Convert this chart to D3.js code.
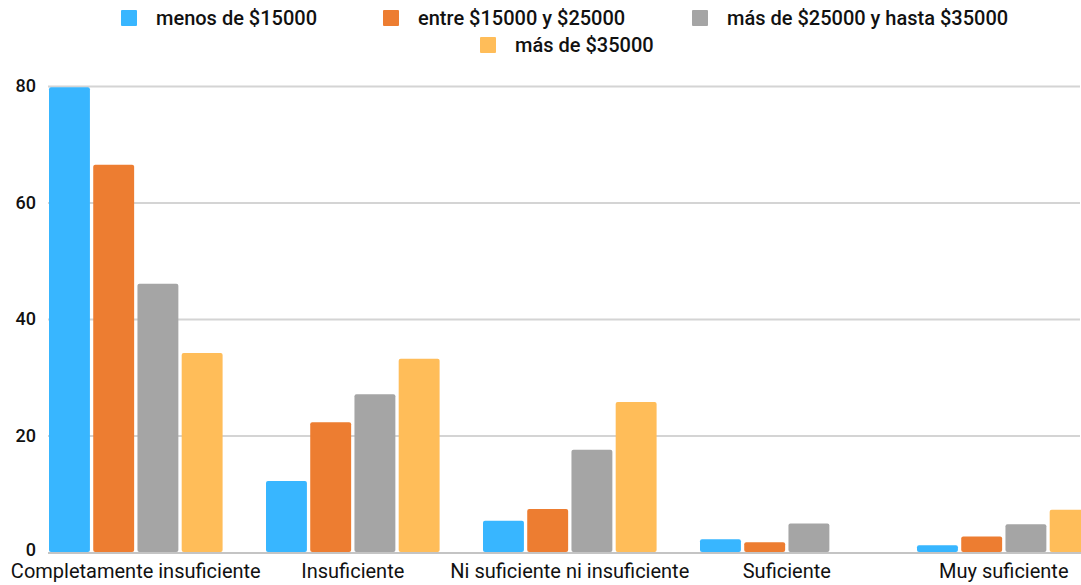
<!DOCTYPE html>
<meta charset="utf-8">
<style>
body { margin: 0; background: #fff; }
svg { display: block; font-family: Roboto, sans-serif; }
.grid line { stroke: #d4d4d4; stroke-width: 2; }
.grid .domain { display: none; }
.y-axis text { font-size: 18px; font-weight: 500; fill: #111; }
.x-label { font-size: 20px; font-weight: 400; fill: #111; }
.legend text { font-size: 20px; font-weight: 500; fill: #111; }
</style>
<svg width="1081" height="585"></svg>
<script src="https://d3js.org/d3.v7.min.js"></script>
<script>

var categories = ["Completamente insuficiente", "Insuficiente", "Ni suficiente ni insuficiente", "Suficiente", "Muy suficiente"];
var seriesNames = ["menos de $15000", "entre $15000 y $25000", "más de $25000 y hasta $35000", "más de $35000"];
var colors = ["#38b6ff", "#ed7d31", "#a5a5a5", "#ffbd59"];

var menos15000 = [79.6, 12.0, 5.2, 2.0, 1.0];
var entre15y25 = [66.3, 22.1, 7.2, 1.5, 2.5];
var entre25y35 = [45.9, 26.9, 17.4, 4.7, 4.6];
var mas35000 = [34.0, 33.0, 25.6, 0, 7.1];
var yTicks = [0, 20, 40, 60, 80];

var seriesValues = [menos15000, entre15y25, entre25y35, mas35000];

var svg = d3.select("svg"),
    width = +svg.attr("width"),
    height = +svg.attr("height");

var left = 49, bottom = 552;

var y = d3.scaleLinear().domain([0, 80]).range([bottom, 86]);

var x = d3.scaleBand()
    .domain(categories)
    .range([left, left + 5 * 217])
    .paddingInner(0.2)
    .paddingOuter(0.1)
    .align(0);

var xInner = d3.scaleBand()
    .domain(d3.range(seriesNames.length))
    .range([0, x.bandwidth()])
    .paddingInner(0.075);

// gridlines
svg.append("g")
    .attr("class", "grid")
    .attr("transform", "translate(" + (left - 1) + ",0)")
    .call(d3.axisLeft(y).tickValues(yTicks.slice(1)).tickSize(-(width - left)).tickFormat(""));

// y labels
svg.append("g")
    .attr("class", "y-axis")
    .selectAll("text")
    .data(yTicks)
    .enter().append("text")
    .attr("x", 36)
    .attr("y", function(d) { return y(d) - (d === 0 ? 2 : 0); })
    .attr("dy", "0.35em")
    .attr("text-anchor", "end")
    .text(function(d) { return d; });

// bars
var groups = svg.append("g")
  .selectAll("g")
  .data(categories)
  .enter().append("g")
    .attr("transform", function(d) { return "translate(" + x(d) + ",0)"; });

groups.selectAll("rect")
  .data(function(d, i) {
    return seriesValues.map(function(s, k) { return { k: k, v: s[i] }; });
  })
  .enter().append("rect")
    .attr("x", function(d) { return xInner(d.k); })
    .attr("width", xInner.bandwidth())
    .attr("y", function(d) { return y(d.v) - 1; })
    .attr("height", function(d) { return d.v > 0 ? bottom - y(d.v) + 1 : 0; })
    .attr("rx", 2)
    .attr("fill", function(d) { return colors[d.k]; });

// baseline
svg.append("line")
    .attr("x1", left - 1).attr("x2", width)
    .attr("y1", bottom + 1).attr("y2", bottom + 1)
    .attr("stroke", "#c4c4c4")
    .attr("stroke-width", 2);

// category labels
svg.append("g")
  .selectAll("text")
  .data(categories)
  .enter().append("text")
    .attr("class", "x-label")
    .attr("x", function(d) { return x(d) + x.bandwidth() / 2; })
    .attr("y", 578)
    .attr("text-anchor", "middle")
    .text(function(d) { return d; });

// legend
var legendPos = [[121, 18], [383, 18], [692, 18], [480, 45]];
var legend = svg.append("g")
    .attr("class", "legend")
  .selectAll("g")
  .data(seriesNames)
  .enter().append("g")
    .attr("transform", function(d, i) { return "translate(" + legendPos[i][0] + "," + legendPos[i][1] + ")"; });

legend.append("rect")
    .attr("x", 0).attr("y", -8)
    .attr("width", 16).attr("height", 16)
    .attr("rx", 1)
    .attr("fill", function(d, i) { return colors[i]; });

legend.append("text")
    .attr("x", 35)
    .attr("dy", "0.35em")
    .text(function(d) { return d; });

</script>
